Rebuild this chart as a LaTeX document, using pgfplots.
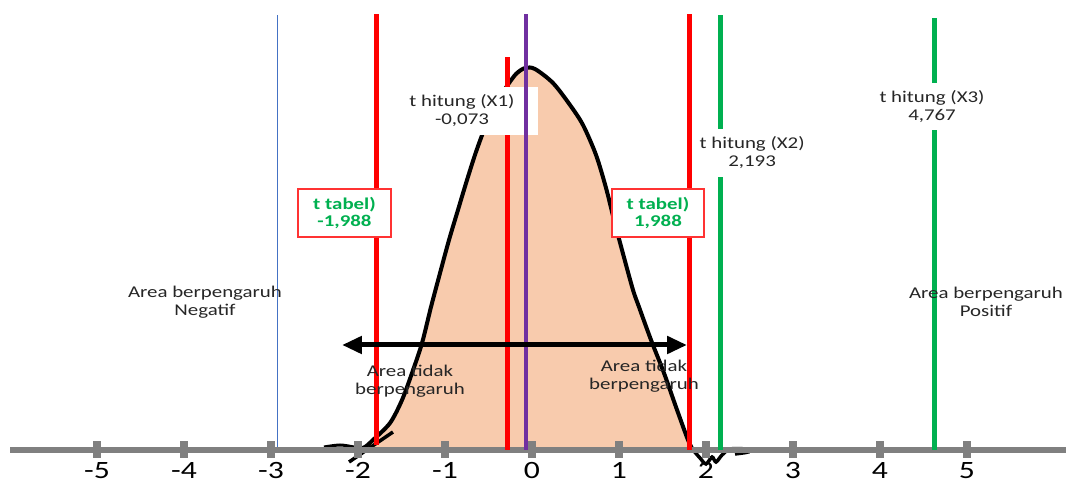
\documentclass[border=0pt]{standalone}
\usepackage{pgfplots}
\pgfplotsset{compat=1.18}
\usepackage{fontspec}
\setmainfont{Carlito}[FakeStretch=1.27]
\usetikzlibrary{arrows.meta}

\definecolor{peach}{RGB}{248,203,173}
\definecolor{axgray}{RGB}{128,128,128}
\definecolor{pptred}{RGB}{255,0,0}
\definecolor{pptpurple}{RGB}{112,48,160}
\definecolor{pptgreen}{RGB}{0,176,80}
\definecolor{pptblue}{RGB}{68,114,196}
\definecolor{txt}{RGB}{38,38,38}

\tikzset{
  lbl/.style={font=\fontsize{16.5}{18}\selectfont, text=txt, align=center, inner sep=0pt},
  tbl/.style={fill=white, draw=pptred!80, line width=1.2bp, minimum height=48bp,
              text=pptgreen, font=\fontsize{16.5}{18}\selectfont\bfseries, align=center},
  num/.style={anchor=base, text=black, font=\fontsize{25}{25}\selectfont, inner sep=0pt},
  wbox/.style={fill=white, inner sep=0pt, minimum height=48bp},
}

\begin{document}
\begin{tikzpicture}
\begin{axis}[
    name=ax,
    width=1068bp, height=484bp, scale only axis,
    hide axis, clip=false,
    xmin=-6.115, xmax=6.161,
    ymin=-34, ymax=450,
  ]

  % thin blue line
  \addplot[pptblue, line width=1bp] coordinates {(-2.931,0) (-2.931,435)};

  % bell curve
  \addplot[black, line width=4bp, fill=peach, smooth] coordinates {
    (-2.000,1) (-1.920,3) (-1.828,10) (-1.632,27) (-1.494,50) (-1.379,77)
    (-1.264,107) (-1.161,143) (-1.057,177) (-0.954,210) (-0.851,240)
    (-0.747,270) (-0.644,298) (-0.529,325) (-0.414,347) (-0.287,364)
    (-0.184,376) (-0.080,382) (0.034,381) (0.241,367) (0.437,345)
    (0.586,325) (0.736,295) (0.851,262) (0.943,230) (1.050,195)
    (1.161,160) (1.230,143) (1.368,110) (1.517,77) (1.655,43) (1.793,10) (1.851,0)
  };
  % hand-drawn leftovers
  \addplot[black, line width=3bp, smooth] coordinates {(-2.391,3) (-2.207,5) (-2.050,3) (-1.960,1)};
  \addplot[black, line width=3.5bp] coordinates {(-2.103,-12) (-1.598,18)};
  \addplot[black, line width=3.5bp, smooth] coordinates {
    (1.851,0) (1.931,-8) (2.000,-14) (2.069,-7) (2.115,-12) (2.184,-5)
    (2.276,1) (2.448,1) (2.483,-2) (2.333,-4)
  };

  % number line
  \addplot[axgray, line width=6bp] coordinates {(-6.000,0) (6.138,0)};
  \addplot[only marks, mark=|, mark size=8.5bp, mark options={axgray, line width=8bp}]
    coordinates {(-5,0) (-4,0) (-3,0) (-2,0) (-1,0) (0,0) (1,0) (2,0) (3,0) (4,0) (5,0)};

  % green lines (t hitung X2, X3)
  \addplot[pptgreen, line width=5bp] coordinates {(2.161,0) (2.161,435)};
  \addplot[pptgreen, line width=5bp] coordinates {(4.621,0) (4.621,432)};
  % red line (X1 side), under its label
  \addplot[pptred, line width=5bp] coordinates {(-0.287,0) (-0.287,393)};

  % t hitung labels
  \node[wbox, minimum width=140bp] at (axis cs:-0.736,339) {};
  \node[lbl] at (axis cs:-0.805,339) {t hitung (X1)\\-0,073};
  \node[wbox, minimum width=142bp] at (axis cs:2.517,297) {};
  \node[lbl] at (axis cs:2.530,297) {t hitung (X2)\\2,193};
  \node[wbox, minimum width=180bp, minimum height=47bp] at (axis cs:4.690,343) {};
  \node[lbl] at (axis cs:4.598,343) {t hitung (X3)\\4,767};

  % red and purple lines
  \addplot[pptred, line width=5bp] coordinates {(-1.782,5) (-1.782,436)};
  \addplot[pptpurple, line width=3.8bp] coordinates {(-0.069,0) (-0.069,436)};
  \addplot[pptred, line width=5bp] coordinates {(1.816,0) (1.816,436)};

  % t tabel boxes
  \node[tbl, minimum width=93bp] at (axis cs:-2.155,237) {t tabel)\\-1,988};
  \node[tbl, minimum width=92bp] at (axis cs:1.448,237) {t tabel)\\1,988};

  % double arrow
  \addplot[black, line width=5bp, {Triangle[length=20bp,width=17bp]}-{Triangle[length=20bp,width=17bp]}]
    coordinates {(-2.184,105) (1.782,105)};

  % area texts
  \node[lbl] at (axis cs:-3.759,148) {Area berpengaruh\\Negatif};
  \node[lbl] at (axis cs:5.218,148) {Area berpengaruh\\Positif};
  \node[lbl] at (axis cs:-1.402,69) {Area tidak\\berpengaruh};
  \node[lbl] at (axis cs:1.287,74) {Area tidak\\berpengaruh};

  % tick numbers
  \node[num] at (axis cs:-5,-29) {-5};
  \node[num] at (axis cs:-4,-29) {-4};
  \node[num] at (axis cs:-3,-29) {-3};
  \node[num] at (axis cs:-2,-29) {-2};
  \node[num] at (axis cs:-1,-29) {-1};
  \node[num] at (axis cs:0,-29) {0};
  \node[num] at (axis cs:1,-29) {1};
  \node[num] at (axis cs:2,-29) {2};
  \node[num] at (axis cs:3,-29) {3};
  \node[num] at (axis cs:4,-29) {4};
  \node[num] at (axis cs:5,-29) {5};
\end{axis}
\pgfresetboundingbox
\path[use as bounding box] (ax.south west) rectangle (ax.north east);
\end{tikzpicture}
\end{document}
